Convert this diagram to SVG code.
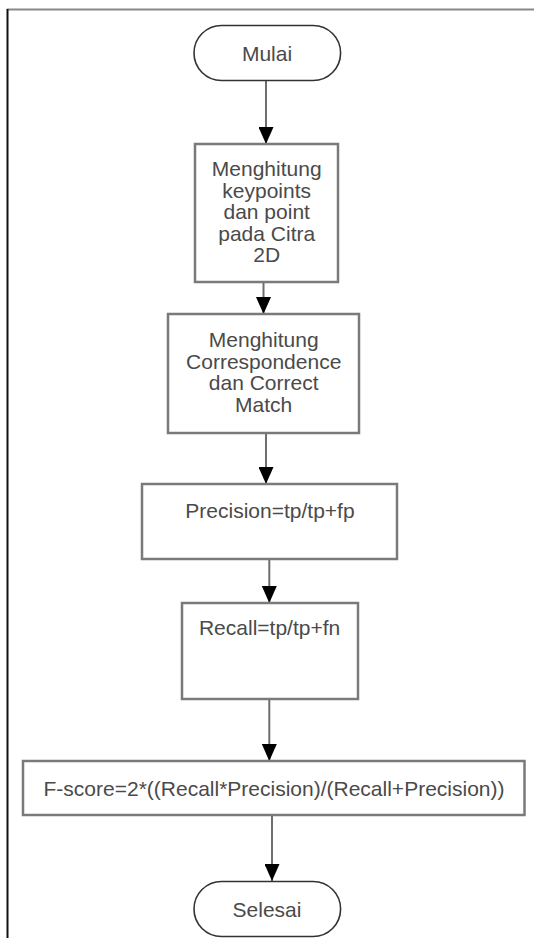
<svg xmlns="http://www.w3.org/2000/svg" width="534" height="938" viewBox="0 0 534 938">
<style>
.box{fill:#fff;stroke:#7a7a7a;stroke-width:2.5}
.term{fill:#fff;stroke:#333;stroke-width:1.6}
.t{font-family:"Liberation Sans",Arial,sans-serif;font-size:21px;fill:#4a4a4a;text-anchor:middle}
.c{stroke:#6e6e6e;stroke-width:2;fill:none;marker-end:url(#ah)}
</style>
<defs>
<marker id="ah" viewBox="0 0 17 15" refX="17" refY="7.5" markerWidth="17" markerHeight="15" markerUnits="userSpaceOnUse" orient="auto">
<path d="M0,0 L17,7.5 L0,15 z" fill="#000"/>
</marker>
</defs>
<rect width="534" height="938" fill="#fff"/>
<g id="frame">
<line x1="7" y1="9.5" x2="534" y2="9.5" stroke="#888" stroke-width="2"/>
<line x1="7.5" y1="9" x2="7.5" y2="938" stroke="#111" stroke-width="2"/>
</g>
<g id="connectors">
<line class="c" x1="266" y1="81" x2="266" y2="144"/>
<line class="c" x1="263.5" y1="282" x2="263.5" y2="314"/>
<line class="c" x1="266" y1="433" x2="266" y2="484"/>
<line class="c" x1="269.3" y1="559" x2="269.3" y2="603"/>
<line class="c" x1="269.3" y1="699" x2="269.3" y2="761"/>
<line class="c" x1="272" y1="815" x2="272" y2="881"/>
</g>
<g id="mulai">
<rect class="term" x="194" y="25.5" width="146.6" height="55" rx="27.5"/>
<text class="t" x="267" y="60.5">Mulai</text>
</g>
<g id="keypoints">
<rect class="box" x="195" y="144" width="143" height="138"/>
<text class="t" x="266.7" y="176">Menghitung</text>
<text class="t" x="266.7" y="197.5">keypoints</text>
<text class="t" x="266.7" y="219">dan point</text>
<text class="t" x="266.7" y="240.5">pada Citra</text>
<text class="t" x="266.7" y="262">2D</text>
</g>
<g id="correspondence">
<rect class="box" x="168" y="314" width="191" height="119"/>
<text class="t" x="263.7" y="347">Menghitung</text>
<text class="t" x="263.7" y="368.5">Correspondence</text>
<text class="t" x="263.7" y="390">dan Correct</text>
<text class="t" x="263.7" y="411.5">Match</text>
</g>
<g id="precision">
<rect class="box" x="142" y="484" width="255" height="75"/>
<text class="t" x="270" y="518.3">Precision=tp/tp+fp</text>
</g>
<g id="recall">
<rect class="box" x="182" y="603" width="176" height="96"/>
<text class="t" x="269.6" y="635">Recall=tp/tp+fn</text>
</g>
<g id="fscore">
<rect class="box" x="23" y="761" width="501.5" height="54"/>
<text class="t" x="274" y="796">F-score=2*((Recall*Precision)/(Recall+Precision))</text>
</g>
<g id="selesai">
<rect class="term" x="194" y="881.5" width="146.6" height="55" rx="27.5"/>
<text class="t" x="267" y="916.5">Selesai</text>
</g>
</svg>
